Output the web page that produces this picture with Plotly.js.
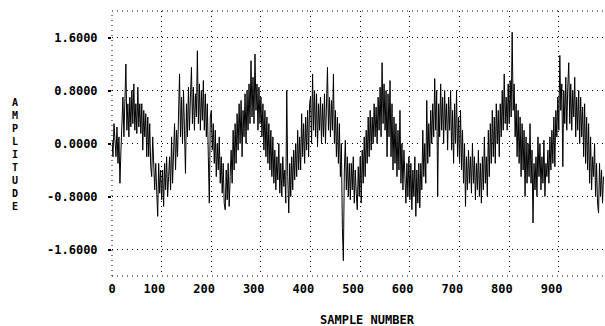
<!DOCTYPE html>
<html>
<head>
<meta charset="utf-8">
<script src="https://cdn.plot.ly/plotly-3.0.1.min.js"></script>
<style>html,body{margin:0;padding:0;background:#fff;}#chart{width:605px;height:326px;}</style>
</head>
<body>
<div id="chart"></div>
<script>
// Amplitude, one value every 2 samples (sample 0 .. 990)
const sampleStep = 2;
const amplitude = [
  0.05, -0.2, 0.3, -0.1, -0.2, 0.25, -0.3, 0.1, -0.6, -0.1,
  0.2, 0.7, 0.1, 0.55, 1.2, 0.2, 0.6, 0.1, 0.7, 0.25,
  0.8, 0.3, 0.9, 0.2, 0.6, 0.15, 0.85, 0.25, 0.6, 0.15,
  0.6, -0.1, 0.5, 0.1, 0.45, -0.2, 0.4, -0.2, 0.3, -0.35,
  -0.5, 0.1, -0.2, -0.7, -0.3, -0.8, -1.1, -0.3, -0.75, -0.4,
  -0.85, -0.4, -0.95, -0.3, -0.7, -0.2, -0.8, -0.5, -0.2, -0.7,
  0.1, -0.6, 0.0, 0.3, -0.4, 0.2, -0.2, 0.6, 1.05, 0.1,
  0.7, 0.0, 0.8, 0.2, -0.45, 0.6, 0.1, 0.85, 0.2, 0.7,
  1.15, 0.3, 0.85, 0.2, 0.75, 0.4, 1.4, 0.3, 0.9, 0.2,
  0.8, 0.35, 0.95, 0.2, 0.75, 0.1, 0.6, -0.2, -0.9, 0.4,
  0.5, -0.1, 0.3, -0.3, 0.2, -0.5, 0.0, -0.4, 0.1, -0.6,
  -0.2, -0.75, -0.3, -0.9, -1.0, -0.4, -0.85, -0.3, -0.95, -0.5,
  -0.1, -0.6, 0.2, -0.4, 0.3, -0.3, 0.45, -0.1, 0.6, 0.0,
  0.65, -0.2, 0.5, 0.1, 0.75, 0.0, 0.8, 0.2, 0.9, 0.3,
  1.25, 0.4, 1.0, 0.3, 1.35, 0.5, 0.9, 0.2, 0.85, 0.3,
  0.7, 0.1, 0.6, -0.1, 0.5, -0.2, 0.4, -0.3, 0.3, -0.4,
  0.2, -0.5, 0.1, -0.6, -0.1, -0.7, -0.2, -0.55, 0.0, -0.75,
  -0.3, -0.8, -0.2, -0.65, -0.4, -0.9, 0.8, -0.5, -1.05, -0.3,
  -0.8, -0.2, -0.7, -0.1, -0.55, 0.0, -0.5, 0.2, -0.4, 0.1,
  -0.4, 0.45, -0.2, 0.3, -0.3, 0.4, -0.1, 0.5, -0.2, 0.6,
  0.7, 0.0, 1.05, 0.2, 0.8, 0.1, 0.75, -0.05, 0.6, 0.2,
  0.7, 0.0, 0.6, 0.1, 0.75, 0.0, 0.6, 1.15, 0.2, 0.7,
  0.1, 0.65, 0.2, 1.05, 0.0, 0.5, -0.2, 0.4, -0.3, 0.3,
  -0.5, 0.0, -1.27, -1.77, -0.4, 0.05, -0.7, -0.2, -0.8, -0.3,
  -0.85, -0.3, -0.7, -0.2, -0.9, -0.4, -0.75, -1.0, -0.35, -0.8,
  -0.2, -0.9, -0.1, -0.6, 0.1, -0.5, 0.2, -0.3, 0.4, -0.2,
  0.5, -0.1, 0.4, 0.0, 0.6, 0.1, 0.55, 0.0, 0.7, 0.2,
  0.85, 0.1, 1.22, 0.3, 0.9, 0.2, 0.8, -0.2, 0.75, 0.1,
  0.95, -0.2, 0.6, -0.4, 0.4, -0.3, 0.3, -0.5, 0.2, -0.4,
  0.5, -0.6, 0.0, -0.7, -0.1, -0.5, -0.9, -0.3, -0.8, -0.2,
  -0.85, -0.3, -1.0, -0.4, -0.8, -0.2, -1.1, -0.4, -0.9, -0.3,
  -0.97, -0.3, -0.7, 0.2, -0.5, 0.0, -0.6, 0.65, -0.3, 0.3,
  -0.2, 0.5, 0.0, 0.6, 0.1, 0.98, 0.2, 0.8, -0.8, 0.6,
  0.1, 0.9, 0.2, 0.7, 0.0, 0.8, 0.2, 0.6, -0.1, 0.7,
  0.2, 0.8, -0.1, 0.5, -0.3, 0.6, 0.0, 0.8, -0.2, 0.4,
  -0.3, 0.5, -0.4, 0.2, -0.6, 0.0, -0.95, -0.2, -0.7, -0.1,
  -0.6, -0.2, -0.75, 0.0, -0.6, -0.2, -0.85, -0.3, -0.7, -0.1,
  -0.8, -0.3, -0.9, -0.2, -0.7, 0.1, -0.6, -0.2, -0.8, 0.2,
  -0.5, 0.3, -0.3, 0.5, -0.2, 0.4, -0.3, 0.6, 0.0, 0.5,
  -0.2, 0.6, 0.1, 0.8, 0.2, 1.05, 0.3, 0.7, 0.2, 0.9,
  0.3, 0.95, 0.4, 1.68, 0.5, 0.9, 0.1, 0.6, -0.2, 0.5,
  -0.3, 0.4, -0.5, 0.3, -0.4, 0.2, -0.8, 0.1, -0.6, 0.0,
  -0.5, 0.3, -0.6, -0.1, -1.2, -0.3, -0.7, -0.2, -0.8, 0.1,
  -0.5, 0.0, -0.7, -0.2, -0.6, 0.05, -0.8, -0.3, -0.5, -0.1,
  -0.6, 0.1, -0.4, 0.2, -0.3, 0.4, -0.35, 0.5, 0.1, 0.7,
  0.2, 1.33, 0.5, 0.9, -0.35, 0.8, 0.3, 1.0, 0.2, 0.85,
  1.22, 0.3, 0.9, 0.2, 0.8, 0.4, 1.0, 0.1, 0.7, 0.2,
  0.8, 0.0, 0.7, 0.1, 0.55, -0.2, 0.6, -0.3, 0.4, -0.4,
  0.3, -0.6, 0.1, -0.7, -0.2, -0.5, 0.0, -0.8, -0.3, -0.9,
  -1.05, -0.3, -0.8, -0.4, -0.9, -0.5
];
const sampleNumbers = amplitude.map((_, i) => i * sampleStep);

const xTickVals = [0, 100, 200, 300, 400, 500, 600, 700, 800, 900];
const xTickText = ["0", "100", "200", "300", "400", "500", "600", "700", "800", "900"];
const yTickVals = [-1.6, -0.8, 0, 0.8, 1.6];
const yTickText = ["-1.6000", "-0.8000", "0.0000", "0.8000", "1.6000"];
const xTitle = "SAMPLE NUMBER";
const yTitle = "AMPLITUDE";

const nb = "\u00A0\u00A0";
const font = {family: "DejaVu Sans Mono", size: 12, color: "#000", weight: "bold"};
const dotDash = "1px,4px";

const trace = {
  x: sampleNumbers, y: amplitude, type: "scatter", mode: "lines",
  line: {color: "#000", width: 1}, hoverinfo: "skip"
};

const layout = {
  width: 605, height: 326,
  margin: {l: 112, r: 0, t: 11, b: 50, pad: 0},
  paper_bgcolor: "#fff", plot_bgcolor: "#fff",
  showlegend: false,
  font: font,
  xaxis: {
    range: [0, 993], tickmode: "array", tickvals: xTickVals,
    ticktext: xTickText.map((t, i) => i === 0 ? t : t + nb),
    showgrid: true, gridcolor: "#000", gridwidth: 1, griddash: dotDash,
    zeroline: false, showline: false, ticks: "", ticklabelstandoff: 4,
    tickfont: font
  },
  yaxis: {
    range: [-2, 2], tickmode: "array", tickvals: yTickVals, ticktext: yTickText,
    showgrid: true, gridcolor: "#000", gridwidth: 1, griddash: dotDash,
    zeroline: false, showline: false, ticks: "outside", ticklen: 3, tickwidth: 2,
    tickcolor: "#000", ticklabelstandoff: 8, tickfont: font
  },
  shapes: [
    {type: "line", xref: "paper", yref: "paper", x0: 0, x1: 1, y0: 1, y1: 1, line: {color: "#000", width: 1, dash: dotDash}},
    {type: "line", xref: "paper", yref: "paper", x0: 0, x1: 1, y0: 0, y1: 0, line: {color: "#000", width: 1, dash: dotDash}},
    {type: "line", xref: "paper", yref: "paper", x0: 0, x1: 0, y0: 0, y1: 1, line: {color: "#000", width: 1, dash: dotDash}}
  ],
  annotations: [
    {text: xTitle, xref: "paper", yref: "paper", x: (367 - 112) / 493, y: -44 / 265, xanchor: "center", yanchor: "middle", showarrow: false, font: font},
    {text: yTitle.split("").join("<br>"), xref: "paper", yref: "paper", x: (15 - 112) / 493, y: (265 - (154 - 11)) / 265, xanchor: "center", yanchor: "middle", showarrow: false, font: {family: "DejaVu Sans Mono", size: 10, color: "#000", weight: "bold"}}
  ]
};

Plotly.newPlot("chart", [trace], layout, {staticPlot: true, displayModeBar: false});
</script>
</body>
</html>
